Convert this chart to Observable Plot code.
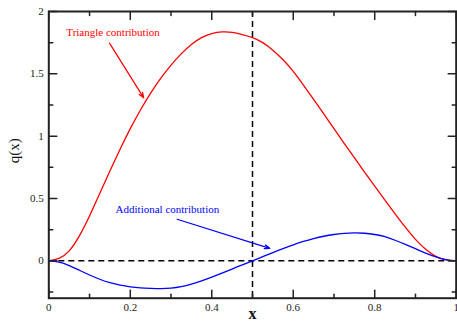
<!DOCTYPE html>
<html><head><meta charset="utf-8">
<script src="https://cdn.jsdelivr.net/npm/d3@7"></script>
<script src="https://cdn.jsdelivr.net/npm/@observablehq/plot@0.6"></script>
<style>body{margin:0;background:#fff}</style>
</head><body><div id="chart"></div>
<script>
const xGrid = [0,0.025,0.05,0.075,0.1,0.125,0.15,0.175,0.2,0.225,0.25,0.275,0.3,0.325,0.35,0.375,0.4,0.425,0.45,0.475,0.5,0.525,0.55,0.575,0.6,0.625,0.65,0.675,0.7,0.725,0.75,0.775,0.8,0.825,0.85,0.875,0.9,0.925,0.95,0.975,1];
const triangleQ = [0,0.02,0.08,0.2,0.36,0.54,0.72,0.895,1.06,1.21,1.345,1.465,1.57,1.66,1.735,1.79,1.822,1.836,1.833,1.815,1.79,1.75,1.69,1.613,1.52,1.41,1.295,1.178,1.06,0.943,0.827,0.712,0.599,0.487,0.377,0.27,0.172,0.092,0.036,0.007,0];
const additionalQ = [0,-0.01,-0.038,-0.076,-0.114,-0.148,-0.176,-0.196,-0.209,-0.217,-0.221,-0.223,-0.219,-0.207,-0.187,-0.161,-0.131,-0.099,-0.066,-0.032,0,0.033,0.066,0.098,0.128,0.155,0.178,0.197,0.211,0.22,0.224,0.221,0.211,0.194,0.165,0.132,0.097,0.062,0.032,0.01,0];

const majorX = [0,0.2,0.4,0.6,0.8,1];
const minorX = [0.1,0.3,0.5,0.7,0.9];
const majorY = [0,0.5,1,1.5,2];
const minorY = [-0.25,0.25,0.75,1.25,1.75];

const labelTexts = ["Triangle contribution","Additional contribution"];
const labelColors = ["#ff0000","#0000ff"];
const labelX = [0.043,0.164];
const labelY = [1.828,0.414];
const arrowX1 = [0.149,0.315];
const arrowY1 = [1.746,0.333];
const arrowX2 = [0.233,0.5425];
const arrowY2 = [1.307,0.10];

const serif = "'Liberation Serif', 'Times New Roman', serif";
const tri = xGrid.map((x,i)=>({x, y: triangleQ[i]}));
const add = xGrid.map((x,i)=>({x, y: additionalQ[i]}));
const labels = labelTexts.map((t,i)=>({text:t, x:labelX[i], y:labelY[i], c:labelColors[i]}));
const arrows = labelTexts.map((t,i)=>({x1:arrowX1[i], y1:arrowY1[i], x2:arrowX2[i], y2:arrowY2[i], c:labelColors[i]}));

const tickShape = {draw(ctx, l){ ctx.moveTo(0,0); ctx.lineTo(0,-l); }};
function ticks(vals, axis, pos, rot, len){
  return Plot.vector(vals, {
    x: axis === "x" ? d=>d : ()=>pos,
    y: axis === "x" ? ()=>pos : d=>d,
    length: len, rotate: rot, anchor: "start", shape: tickShape,
    stroke: "#222", strokeWidth: 1.5
  });
}

const chart = Plot.plot({
  width: 457, height: 323,
  marginLeft: 48.3, marginRight: 1.3, marginTop: 11, marginBottom: 25.3,
  style: {fontFamily: serif, fontSize: "11px", background: "#fff", color: "#222"},
  x: {domain: [0,1]},
  y: {domain: [-0.3,2]},
  marks: [
    Plot.ruleY([0], {stroke: "#000", strokeWidth: 1.5, strokeDasharray: "6,4"}),
    Plot.ruleX([0.5], {stroke: "#000", strokeWidth: 1.5, strokeDasharray: "6,4"}),
    Plot.line(tri, {x: "x", y: "y", stroke: "#ff0000", strokeWidth: 1.3, curve: "natural"}),
    Plot.line(add, {x: "x", y: "y", stroke: "#0000ff", strokeWidth: 1.3, curve: "natural"}),
    Plot.arrow(arrows, {x1: "x1", y1: "y1", x2: "x2", y2: "y2", stroke: "c", strokeWidth: 1.2, headLength: 7, headAngle: 40}),
    Plot.text(labels, {x: "x", y: "y", text: "text", fill: "c", textAnchor: "start", fontSize: 11, fontFamily: serif}),
    ticks(majorX, "x", -0.3, 0, 8),
    ticks(minorX, "x", -0.3, 0, 4),
    ticks(majorX, "x", 2, 180, 8),
    ticks(minorX, "x", 2, 180, 4),
    ticks(majorY, "y", 0, 90, 8),
    ticks(minorY, "y", 0, 90, 4),
    ticks(majorY, "y", 1, 270, 8),
    ticks(minorY, "y", 1, 270, 4),
    Plot.axisX({ticks: majorX, tickSize: 0, tickPadding: 5, label: null, fontSize: 11, fontFamily: serif, tickFormat: d=>String(d), fill: "#222"}),
    Plot.axisY({ticks: majorY, tickSize: 0, tickPadding: 5, label: null, fontSize: 11, fontFamily: serif, tickFormat: d=>String(d), fill: "#222"}),
    Plot.text(["x"], {frameAnchor: "bottom", text: d=>d, dy: 16, lineAnchor: "middle", textAnchor: "middle", fontSize: 16, fontWeight: "bold", fontFamily: serif, fill: "#111"}),
    Plot.text(["q(x)"], {frameAnchor: "left", text: d=>d, rotate: -90, dx: -35, dy: -4, textAnchor: "middle", lineAnchor: "middle", fontSize: 15, fontFamily: serif, fill: "#111"}),
    Plot.frame({stroke: "#222", strokeWidth: 2})
  ]
});
document.getElementById("chart").appendChild(chart);
</script>
</body></html>
